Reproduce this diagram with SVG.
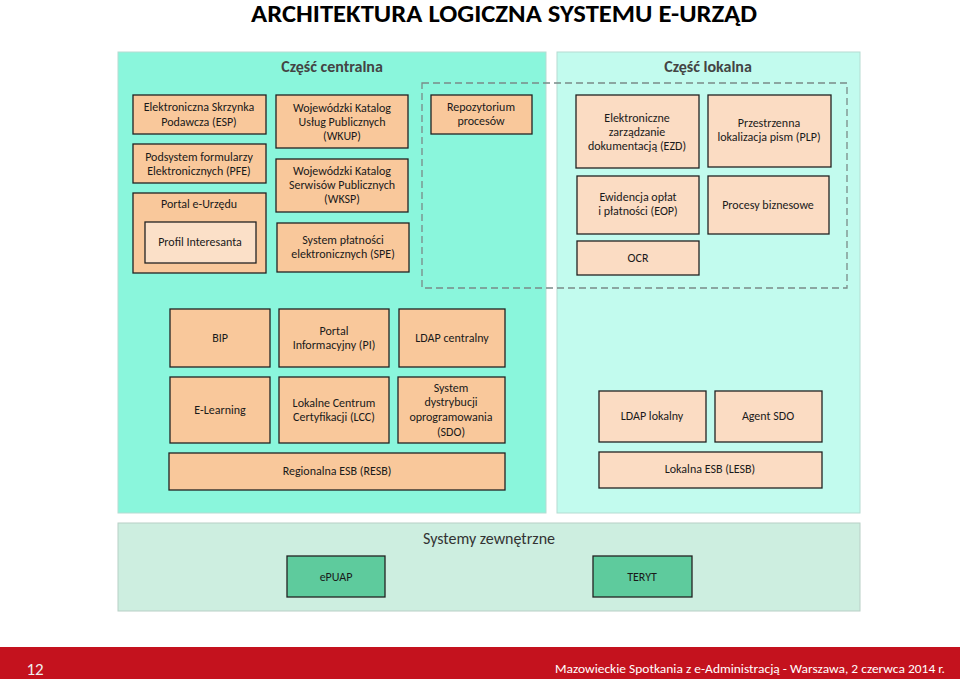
<svg xmlns="http://www.w3.org/2000/svg" width="960" height="679" viewBox="0 0 960 679">
<style>
text{font-family:Carlito,"Liberation Sans",Arial,sans-serif;fill:#1a1a1a;text-anchor:middle}
.t{font-size:12px}
.h{font-size:16px;font-weight:bold;fill:#444}
.b{fill:#f9c89b;stroke:#222;stroke-width:1.3}
.bl{fill:#fbdcc3;stroke:#222;stroke-width:1.3}
.g{fill:#5ecb9d;stroke:#222;stroke-width:1.3}
</style>
<rect width="960" height="679" fill="#fff"/>
<text x="504" y="22" font-size="24" font-weight="bold" style="fill:#000" textLength="506" lengthAdjust="spacingAndGlyphs">ARCHITEKTURA LOGICZNA SYSTEMU E-URZĄD</text>

<g id="central">
<rect x="118" y="52" width="428" height="461" fill="#8af6dc" stroke="#b5dcd2" stroke-width="1"/>
<text class="h" x="332" y="72">Część centralna</text>
</g>
<g id="local">
<rect x="557" y="52" width="303" height="461" fill="#c2fbee" stroke="#b5dcd2" stroke-width="1"/>
<text class="h" x="708" y="72">Część lokalna</text>
</g>
<g id="external">
<rect x="118" y="523" width="742" height="88" fill="#cdeee0" stroke="#b8cfc6" stroke-width="1"/>
<text x="489" y="544" font-size="16" style="fill:#333">Systemy zewnętrzne</text>
</g>
<g id="dashed-region">
<rect x="422" y="83" width="425" height="205" fill="none" stroke="#7a8a88" stroke-width="1.3" stroke-dasharray="7,4"/>
</g>

<g id="esp"><rect class="b" x="133" y="95" width="133" height="39"/><text class="t" x="199" y="111">Elektroniczna Skrzynka</text><text class="t" x="199" y="126">Podawcza (ESP)</text></g>
<g id="pfe"><rect class="b" x="133" y="144" width="133" height="39"/><text class="t" x="199" y="161">Podsystem formularzy</text><text class="t" x="199" y="175">Elektronicznych (PFE)</text></g>
<g id="portal"><rect class="b" x="133" y="193" width="133" height="80"/><text class="t" x="199" y="208">Portal e-Urzędu</text></g>
<g id="profil"><rect x="145" y="222" width="111" height="41" fill="#fbe0c8" stroke="#222" stroke-width="1.3"/><text class="t" x="200" y="246">Profil Interesanta</text></g>
<g id="wkup"><rect class="b" x="276" y="95" width="132" height="53"/><text class="t" x="342" y="112">Wojewódzki Katalog</text><text class="t" x="342" y="126">Usług Publicznych</text><text class="t" x="342" y="140">(WKUP)</text></g>
<g id="wksp"><rect class="b" x="276" y="159" width="132" height="53"/><text class="t" x="342" y="175">Wojewódzki Katalog</text><text class="t" x="342" y="189">Serwisów Publicznych</text><text class="t" x="342" y="203">(WKSP)</text></g>
<g id="spe"><rect class="b" x="277" y="223" width="132" height="49"/><text class="t" x="343" y="244">System płatności</text><text class="t" x="343" y="258">elektronicznych (SPE)</text></g>
<g id="repo"><rect class="b" x="431" y="95" width="101" height="39"/><text class="t" x="481" y="111">Repozytorium</text><text class="t" x="481" y="125">procesów</text></g>

<g id="ezd"><rect class="bl" x="576" y="95" width="123" height="73"/><text class="t" x="637" y="122">Elektroniczne</text><text class="t" x="637" y="136">zarządzanie</text><text class="t" x="637" y="150">dokumentacją (EZD)</text></g>
<g id="plp"><rect class="bl" x="708" y="95" width="123" height="72"/><text class="t" x="769" y="127">Przestrzenna</text><text class="t" x="769" y="141">lokalizacja pism (PLP)</text></g>
<g id="eop"><rect class="bl" x="577" y="176" width="122" height="58"/><text class="t" x="638" y="201">Ewidencja opłat</text><text class="t" x="638" y="215">i płatności (EOP)</text></g>
<g id="procesy"><rect class="bl" x="708" y="176" width="121" height="58"/><text class="t" x="768" y="209">Procesy biznesowe</text></g>
<g id="ocr"><rect class="bl" x="577" y="241" width="122" height="34"/><text class="t" x="638" y="262">OCR</text></g>

<g id="bip"><rect class="b" x="170" y="309" width="100" height="58"/><text class="t" x="220" y="342">BIP</text></g>
<g id="pi"><rect class="b" x="279" y="309" width="110" height="58"/><text class="t" x="334" y="335">Portal</text><text class="t" x="334" y="349">Informacyjny (PI)</text></g>
<g id="ldapc"><rect class="b" x="399" y="309" width="106" height="58"/><text class="t" x="452" y="342">LDAP centralny</text></g>
<g id="elearning"><rect class="b" x="170" y="377" width="100" height="66"/><text class="t" x="220" y="414">E-Learning</text></g>
<g id="lcc"><rect class="b" x="279" y="377" width="110" height="66"/><text class="t" x="334" y="407">Lokalne Centrum</text><text class="t" x="334" y="421">Certyfikacji (LCC)</text></g>
<g id="sdo"><rect class="b" x="398" y="377" width="107" height="66"/><text class="t" x="451" y="392">System</text><text class="t" x="451" y="406">dystrybucji</text><text class="t" x="451" y="421">oprogramowania</text><text class="t" x="451" y="436">(SDO)</text></g>
<g id="resb"><rect class="b" x="169" y="453" width="336" height="37"/><text class="t" x="337" y="475">Regionalna ESB (RESB)</text></g>

<g id="ldapl"><rect class="bl" x="599" y="391" width="107" height="51"/><text class="t" x="652" y="420">LDAP lokalny</text></g>
<g id="agent"><rect class="bl" x="715" y="391" width="107" height="51"/><text class="t" x="768" y="420">Agent SDO</text></g>
<g id="lesb"><rect class="bl" x="599" y="452" width="223" height="36"/><text class="t" x="710" y="473">Lokalna ESB (LESB)</text></g>

<g id="epuap"><rect class="g" x="287" y="556" width="98" height="41"/><text class="t" x="336" y="581">ePUAP</text></g>
<g id="teryt"><rect class="g" x="593" y="556" width="99" height="41"/><text class="t" x="642" y="581">TERYT</text></g>

<g id="connectors"></g>

<g id="footer">
<rect x="0" y="647" width="960" height="32" fill="#c4121e"/>
<text x="35" y="675" font-size="17" style="fill:#eee">12</text>
<text x="750" y="673" font-size="13" style="fill:#fff" textLength="390" lengthAdjust="spacingAndGlyphs">Mazowieckie Spotkania z e-Administracją - Warszawa, 2 czerwca 2014 r.</text>
</g>
</svg>
